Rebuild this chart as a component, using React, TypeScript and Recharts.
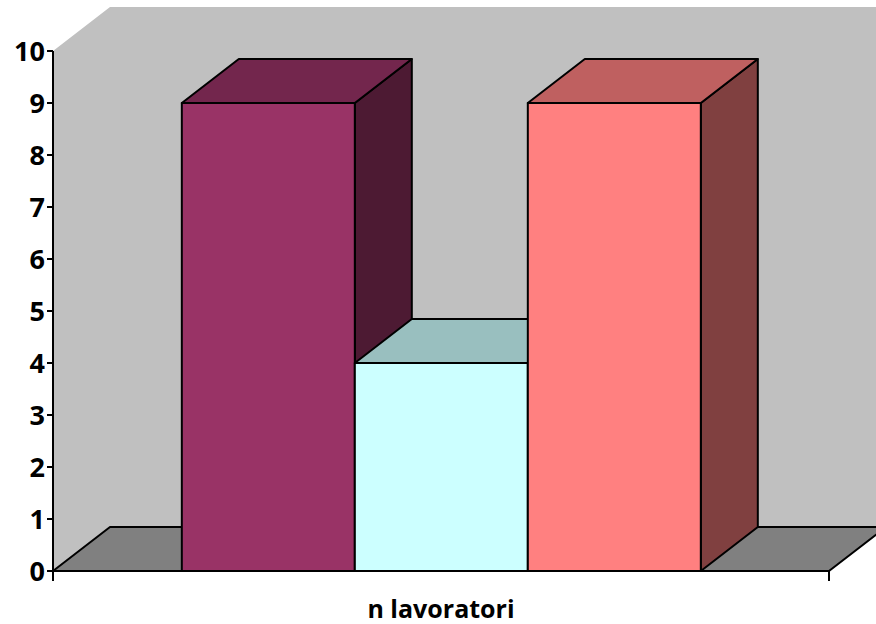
import React from "react";
import { BarChart, Bar, XAxis, YAxis, ReferenceArea } from "recharts";

const categories = ["n lavoratori"];
const seriesA = [9];
const seriesB = [4];
const seriesC = [9];
const yTicks = [0, 1, 2, 3, 4, 5, 6, 7, 8, 9, 10];

const data = categories.map((c, i) => ({ name: c, a: seriesA[i], b: seriesB[i], c: seriesC[i] }));

const DX = 57;
const DY = 44;

const make3D = (front: string, top: string, side: string) => (props: any) => {
  const { x, y, width, height } = props;
  if (width == null || height == null) return null;
  const x2 = x + width;
  const yb = y + height;
  return (
    <g stroke="#000" strokeWidth={2} strokeLinejoin="round">
      <polygon points={`${x2},${y} ${x2 + DX},${y - DY} ${x2 + DX},${yb - DY} ${x2},${yb}`} fill={side} />
      <polygon points={`${x},${y} ${x + DX},${y - DY} ${x2 + DX},${y - DY} ${x2},${y}`} fill={top} />
      <rect x={x} y={y} width={width} height={height} fill={front} />
    </g>
  );
};

const Walls = (props: any) => {
  const { x, y, width, height } = props;
  const x2 = x + width;
  const yb = y + height;
  return (
    <g>
      <polygon points={`${x},${y} ${x + DX},${y - DY} 900,${y - DY} 900,${yb - DY} ${x + DX},${yb - DY} ${x},${yb}`} fill="#C0C0C0" />
      <polygon points={`${x},${yb} ${x + DX},${yb - DY} 900,${yb - DY} 900,${yb - DY} ${x2 + DX},${yb - DY} ${x2},${yb}`} fill="#808080" stroke="#000" strokeWidth={2} strokeLinejoin="round" />
      <line x1={x} y1={yb} x2={x2} y2={yb} stroke="#000" strokeWidth={2} />
      <line x1={x} y1={yb} x2={x} y2={yb + 10} stroke="#000" strokeWidth={2} />
      <line x1={x2} y1={yb} x2={x2} y2={yb + 10} stroke="#000" strokeWidth={2} />
    </g>
  );
};

export default function App() {
  return (
    <div style={{ position: "absolute", left: 0, top: 0, width: 876, height: 624, background: "#fff" }}>
      <BarChart
        width={876}
        height={624}
        data={data}
        margin={{ top: 51, right: 47, left: 0, bottom: 0 }}
        barCategoryGap="16.6%"
        barGap={0}
        style={{ fontFamily: "'Open Sans', sans-serif", fontWeight: 700 }}
      >
        <ReferenceArea x1="n lavoratori" x2="n lavoratori" y1={0} y2={10} shape={<Walls />} ifOverflow="visible" />
        <XAxis
          dataKey="name"
          height={53}
          axisLine={false}
          tickLine={false}
          tick={{ fill: "#000", fontSize: 25, fontWeight: 700, fontFamily: "'Open Sans', sans-serif" }}
          dy={21}
        />
        <YAxis
          width={53}
          domain={[0, 10]}
          ticks={yTicks}
          interval={0}
          axisLine={{ stroke: "#000", strokeWidth: 2 }}
          tickLine={{ stroke: "#000", strokeWidth: 2 }}
          tickSize={6}
          tick={{ fill: "#000", fontSize: 27, fontWeight: 700, fontFamily: "'Open Sans', sans-serif" }}
        />
        <Bar dataKey="a" isAnimationActive={false} shape={make3D("#993366", "#73264D", "#4D1A33")} />
        <Bar dataKey="b" isAnimationActive={false} shape={make3D("#CCFFFF", "#99BFBF", "#668080")} />
        <Bar dataKey="c" isAnimationActive={false} shape={make3D("#FF8080", "#BF6060", "#804040")} />
      </BarChart>
    </div>
  );
}
